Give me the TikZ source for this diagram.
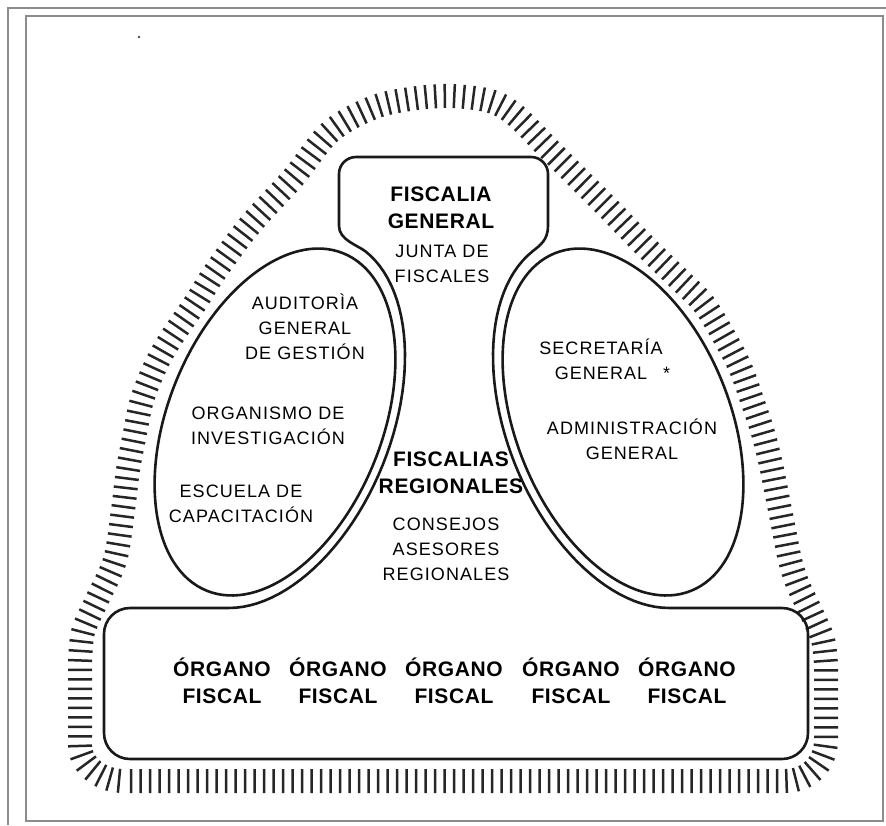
\documentclass[tikz,border=0pt]{standalone}
\usepackage{fontspec}
\setmainfont{Liberation Sans}
\newfontfamily\lblfont[LetterSpace=6]{Liberation Sans}
\newfontfamily\headfont[LetterSpace=3]{Liberation Sans}
\usetikzlibrary{decorations.pathreplacing}
\tikzset{
  outline/.style={line width=2.6pt,draw=black!90,line join=round},
  hatch/.style={line width=2.5pt,draw=black!85,decorate,
    decoration={ticks,segment length=9.5pt,amplitude=12pt}},
  frame/.style={draw=gray!90,line width=1.3pt},
  head/.style={font=\headfont\bfseries\fontsize{21}{27}\selectfont,align=center,inner sep=0pt},
  lbl/.style={font=\lblfont\fontsize{18}{25}\selectfont,align=center,inner sep=0pt}
}

\begin{document}
\begin{tikzpicture}[x=1pt,y=-1pt]
  \useasboundingbox (0,0) rectangle (886,825);
  \draw[frame] (8,825)--(8,8)--(886,8);
  \draw[frame] (26,16) rectangle (883,821);
  \fill[black!70] (139,37) circle (1.3);
  \coordinate (LC) at (275,422); \coordinate (RC) at (623,422);
  % hatched border
  \draw[hatch] (131,781)--(785,781) .. controls (808,781) and (826,764) .. (826,740)--(826,665)
    -- plot[smooth,tension=0.55] coordinates {(826,665) (823,640) (812,614) (798,585) (790,560)
      (784,530) (778,500) (771,465) (763,433) (752,400) (740,367) (722,333) (703,303) (680,280)
      (647,248) (613,213) (580,180) (547,147) (515,115) (490,101) (450,96) (410,99) (372,108)
      (330,132) (293,178) (250,225) (215,272) (196,302) (170,340) (155,367) (142,400) (135,433)
      (128,470) (123,510) (115,560) (97,600) (83,632) (80,665)}
    --(80,745) .. controls (80,765) and (100,781) .. (124,781);
  % ellipses
  \draw[outline,rotate around={-22:(LC)}] (LC) ellipse[x radius=107,y radius=182];
  \draw[outline,rotate around={22:(RC)}] (RC) ellipse[x radius=107,y radius=182];
  % central body
  \draw[outline] (339,226)--(339,174) .. controls (339,164.6) and (346.6,157) .. (356,157)
    --(531,157) .. controls (540.4,157) and (548,164.6) .. (548,174)--(548,226)
    .. controls (548,240) and (540.1,245.3) .. (532.3,251.5)
    -- plot[domain=10:166.5,samples=50,variable=\t] ({623-73.1*cos(\t)-107.5*sin(\t)},{422-180.8*cos(\t)+43.5*sin(\t)})
    --(782,608) .. controls (796.4,608) and (808,619.6) .. (808,634)
    --(808,733) .. controls (808,747.4) and (796.4,759) .. (782,759)
    --(130,759) .. controls (115.6,759) and (104,747.4) .. (104,733)
    --(104,634) .. controls (104,619.6) and (115.6,608) .. (130,608)
    -- plot[domain=-166.5:-10,samples=50,variable=\t] ({275+73.1*cos(\t)-107.5*sin(\t)},{422-180.8*cos(\t)-43.5*sin(\t)})
    .. controls (357.9,245.3) and (339,240) .. (339,226)--cycle;
  % labels
  \node[head] (fg) at (441,208) {FISCALIA\\GENERAL};
  \node[lbl] (jf) at (442,264) {JUNTA DE\\FISCALES};
  \node[lbl] (ag) at (305,327) {AUDITORÌA\\GENERAL\\DE GESTIÓN};
  \node[lbl] (oi) at (268,426) {ORGANISMO DE\\INVESTIGACIÓN};
  \node[lbl] (ec) at (241,504) {ESCUELA DE\\CAPACITACIÓN};
  \node[head] (fr) at (451,473) {FISCALIAS\\REGIONALES};
  \node[lbl] (ca) at (446,549) {CONSEJOS\\ASESORES\\REGIONALES};
  \node[lbl] (sg) at (601,359) {SECRETARÍA\\GENERAL\rlap{\hspace{16pt}*}};
  \node[lbl] (ad) at (632,439) {ADMINISTRACIÓN\\GENERAL};
  \foreach \x [count=\i] in {222,338,454,571,687}
    \node[head] (og\i) at (\x,681) {ÓRGANO\\FISCAL};
\end{tikzpicture}
\end{document}
